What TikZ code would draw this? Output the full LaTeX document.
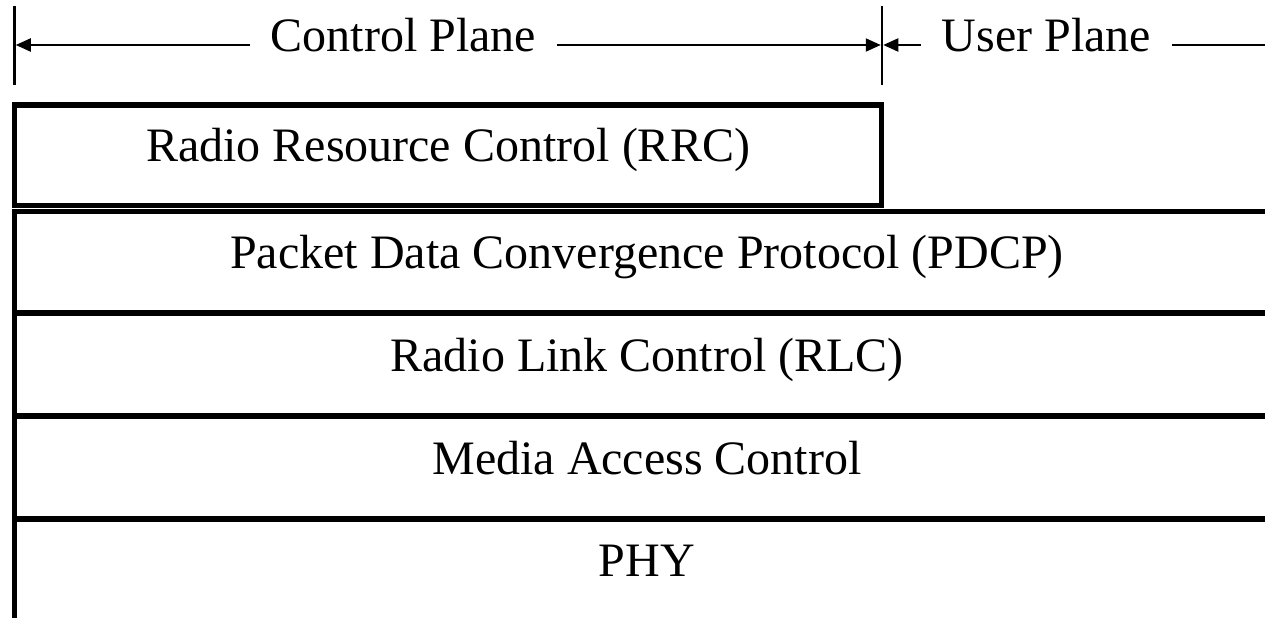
\documentclass[tikz,border=0pt]{standalone}
\usepackage{fontspec}
\setmainfont{Liberation Serif}
\usetikzlibrary{arrows.meta}
\begin{document}
\begin{tikzpicture}[x=1bp,y=-1bp,
  bigtext/.style={font=\fontsize{48bp}{58bp}\selectfont, text height=33bp, text depth=20bp},
  layer/.style={draw, line width=5.5bp, rectangle, inner sep=0pt, bigtext},
  lbl/.style={inner xsep=21bp, inner ysep=0pt, bigtext},
  guide/.style={line width=2bp},
  tickline/.style={line width=2.5bp},
  arr/.style={guide, -{Triangle[length=15bp,width=13bp]}}]
\useasboundingbox (0,0) rectangle (1265,618);

% layers
\node[layer, minimum width=867bp, minimum height=100.5bp] (rrc) at (448,155.25) {Radio Resource Control (RRC)};
\node[layer, minimum width=1265bp, minimum height=101.5bp] (pdcp) at (647,262.25) {Packet Data Convergence Protocol (PDCP)};
\node[layer, minimum width=1265bp, minimum height=103bp] (rlc) at (647,364.5) {Radio Link Control (RLC)};
\node[layer, minimum width=1265bp, minimum height=103bp] (mac) at (647,467.5) {Media Access Control};
\node[layer, minimum width=1265bp, minimum height=101.3bp] (phy) at (647,569.65) {PHY};

% plane labels
\node[lbl] (cp) at (403.5,45) {Control Plane};
\node[lbl] (up) at (1046.5,45) {User Plane};

% ticks
\coordinate (t1a) at (14.5,6);
\coordinate (t1b) at (14.5,85);
\coordinate (t2a) at (882,6);
\coordinate (t2b) at (882,85);
\draw[tickline] (t1a) -- (t1b);
\draw[tickline] (t2a) -- (t2b);

% arrows
\coordinate (a1) at (15.75,45);
\coordinate (a2) at (880.75,45);
\coordinate (a3) at (883.25,45);
\coordinate (re) at (1270,45);
\draw[arr] (cp.west) -- (a1);
\draw[arr] (cp.east) -- (a2);
\draw[arr] (up.west) -- (a3);
\draw[guide] (up.east) -- (re);
\end{tikzpicture}
\end{document}
